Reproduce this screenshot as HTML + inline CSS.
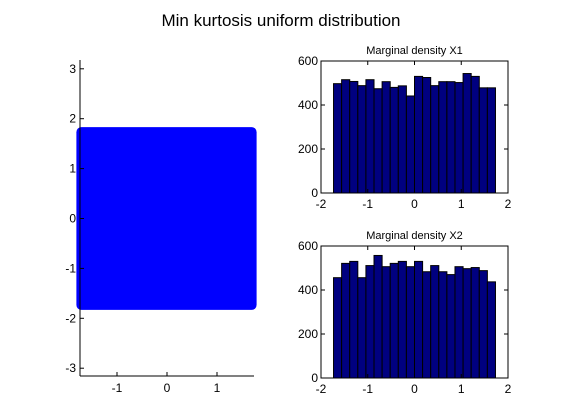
<!DOCTYPE html>
<html><head><meta charset="utf-8"><style>
body{margin:0;background:#fff;}
svg{display:block;font-family:"Liberation Sans",sans-serif;}
</style></head><body>
<svg id="c" width="561" height="420">
<text x="281" y="26" font-size="17" text-anchor="middle">Min kurtosis uniform distribution</text>
</svg>
<script>
const ns="http://www.w3.org/2000/svg";
const svg=document.getElementById('c');
const histTitles=["Marginal density X1","Marginal density X2"];
const x1Counts=[497,515,507,488,515,474,506,480,487,441,530,525,488,506,506,502,543,530,478,478];
const x2Counts=[456,521,530,456,511,557,506,521,530,506,530,483,511,483,470,506,497,502,488,437];
const histXTicks=[-2,-1,0,1,2];
const histYTicks=[0,200,400,600];
const scatterXTicks=[-1,0,1];
const scatterYTicks=[-3,-2,-1,0,1,2,3];
const uniformHalfWidth=Math.sqrt(3);
function mk(t,a,p){const e=document.createElementNS(ns,t);for(const k in a)e.setAttribute(k,a[k]);(p||svg).appendChild(e);return e;}
// scatter
const sx=v=>167+v*50, sy=v=>218.5-v*49.9;
const g=mk('g',{});


const sq=mk('rect',{x:sx(-uniformHalfWidth)-4,y:sy(uniformHalfWidth)-5,width:sx(uniformHalfWidth)-sx(-uniformHalfWidth)+7,height:sy(-uniformHalfWidth)-sy(uniformHalfWidth)+10,rx:5,fill:'#0000ff'},g);


mk('line',{x1:80,y1:60,x2:80,y2:376,stroke:'#000'},g);
mk('line',{x1:80,y1:376,x2:254,y2:376,stroke:'#000'},g);
scatterXTicks.forEach(v=>{mk('line',{x1:sx(v),y1:376,x2:sx(v),y2:372,stroke:'#000'},g);
 const t=mk('text',{x:sx(v),y:392,'font-size':12,'text-anchor':'middle'},g);t.textContent=v;
 });
scatterYTicks.forEach(v=>{mk('line',{x1:80,y1:sy(v),x2:84,y2:sy(v),stroke:'#000'},g);
 const t=mk('text',{x:76,y:sy(v)+4,'font-size':12,'text-anchor':'end'},g);t.textContent=v;
 });
// histograms
function hist(counts,top,title,name){
 const L=321,R=508,B=top+132;
 const hx=v=>L+(v+2)/4*(R-L), hy=v=>B-v/600*(B-top);
 const h=mk('g',{});
 
 
 mk('rect',{x:L,y:top,width:R-L,height:B-top,fill:'#fff',stroke:'#000'},h);
 const n=counts.length,w=2*uniformHalfWidth/n;
 counts.forEach((c,i)=>{const x0=-uniformHalfWidth+i*w;
  const b=mk('rect',{x:hx(x0),y:hy(c),width:hx(x0+w)-hx(x0),height:B-hy(c),fill:'#000080',stroke:'#000','stroke-width':1},h);
  });
 histXTicks.forEach(v=>{mk('line',{x1:hx(v),y1:B,x2:hx(v),y2:B-4,stroke:'#000'},h);mk('line',{x1:hx(v),y1:top,x2:hx(v),y2:top+4,stroke:'#000'},h);
  const t=mk('text',{x:hx(v),y:B+15,'font-size':12,'text-anchor':'middle'},h);t.textContent=v;
  });
 histYTicks.forEach(v=>{mk('line',{x1:L,y1:hy(v),x2:L+4,y2:hy(v),stroke:'#000'},h);mk('line',{x1:R,y1:hy(v),x2:R-4,y2:hy(v),stroke:'#000'},h);
  const t=mk('text',{x:L-3,y:hy(v)+4,'font-size':12,'text-anchor':'end'},h);t.textContent=v;
  });
 const tt=mk('text',{x:(L+R)/2,y:top-7,'font-size':11,'text-anchor':'middle'},h);tt.textContent=title;
 
}
hist(x1Counts,61,histTitles[0],'histogram-x1');
hist(x2Counts,246,histTitles[1],'histogram-x2');
</script>
</body></html>
